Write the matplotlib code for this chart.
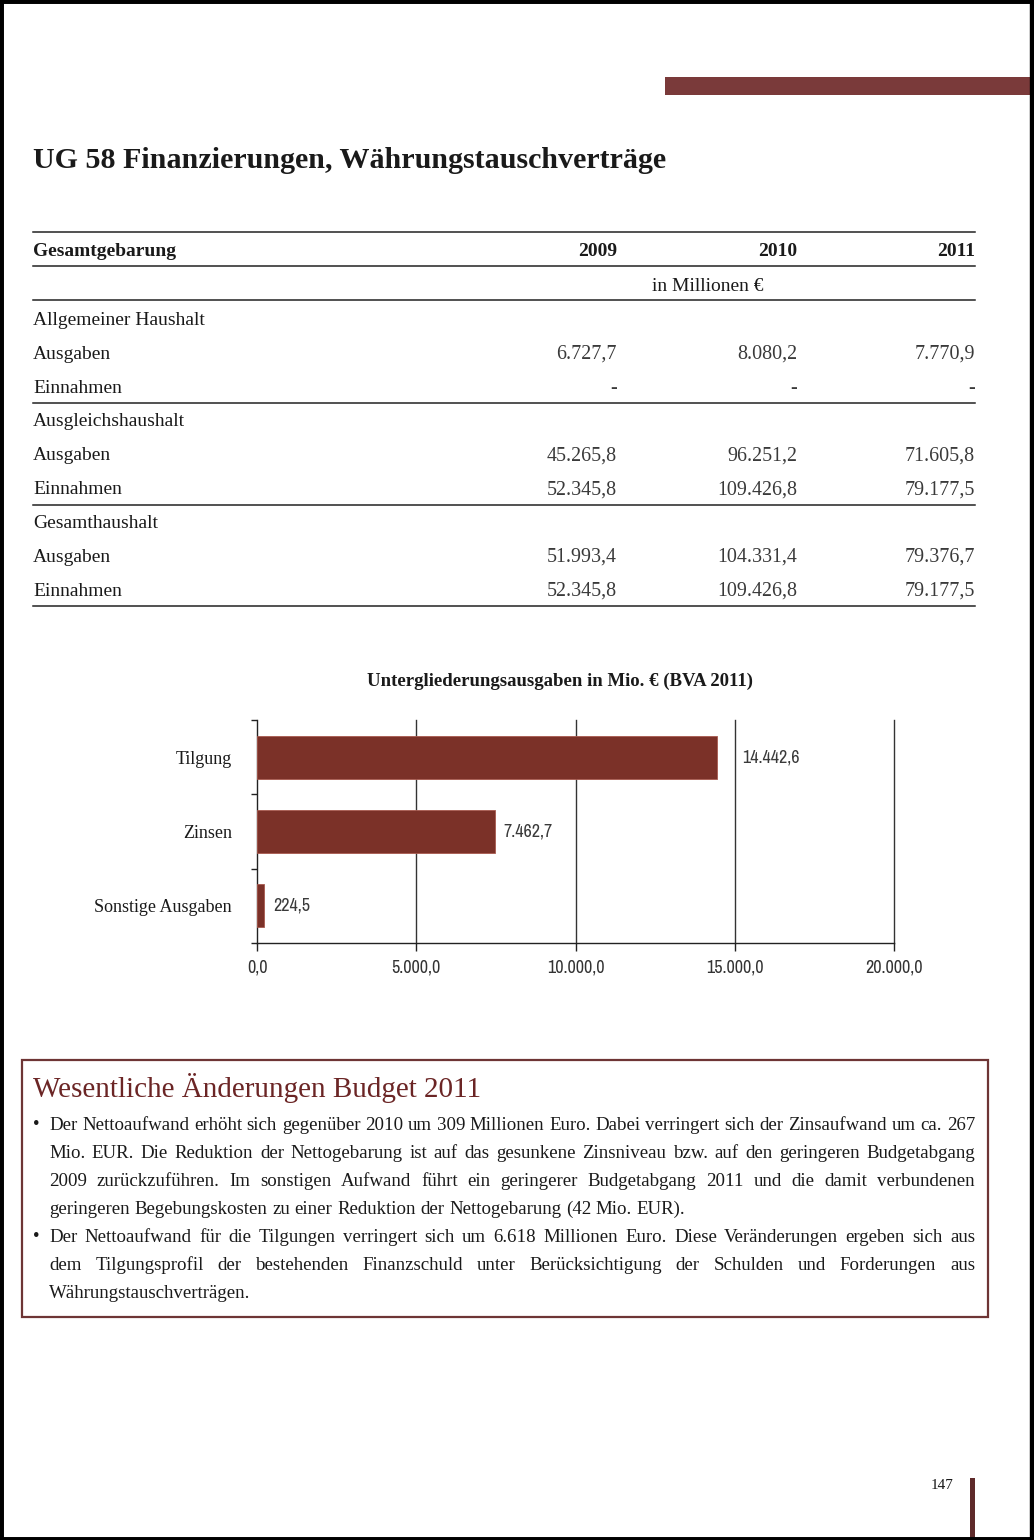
import matplotlib
matplotlib.use("Agg")
import matplotlib.pyplot as plt
from matplotlib.patches import Rectangle
from matplotlib.ticker import FuncFormatter, FixedLocator
from matplotlib import font_manager as fm

# ---------------- data ----------------
page_title = "UG 58 Finanzierungen, Währungstauschverträge"
years = ["2009", "2010", "2011"]
table_sections = ["Allgemeiner Haushalt", "Ausgleichshaushalt", "Gesamthaushalt"]
allg_ausgaben = [6727.7, 8080.2, 7770.9]
allg_einnahmen = [None, None, None]
ausgl_ausgaben = [45265.8, 96251.2, 71605.8]
ausgl_einnahmen = [52345.8, 109426.8, 79177.5]
gesamt_ausgaben = [51993.4, 104331.4, 79376.7]
gesamt_einnahmen = [52345.8, 109426.8, 79177.5]

chart_title = "Untergliederungsausgaben in Mio. € (BVA 2011)"
categories = ["Tilgung", "Zinsen", "Sonstige Ausgaben"]
values = [14442.6, 7462.7, 224.5]
x_ticks = [0, 5000, 10000, 15000, 20000]

box_title = "Wesentliche Änderungen Budget 2011"
paragraphs = [
    ["Der Nettoaufwand erhöht sich gegenüber 2010 um 309 Millionen Euro. Dabei verringert sich der Zinsaufwand um ca. 267",
     "Mio. EUR. Die Reduktion der Nettogebarung ist auf das gesunkene Zinsniveau bzw. auf den geringeren Budgetabgang",
     "2009 zurückzuführen. Im sonstigen Aufwand führt ein geringerer Budgetabgang 2011 und die damit verbundenen",
     "geringeren Begebungskosten zu einer Reduktion der Nettogebarung (42 Mio. EUR)."],
    ["Der Nettoaufwand für die Tilgungen verringert sich um 6.618 Millionen Euro. Diese Veränderungen ergeben sich aus",
     "dem Tilgungsprofil der bestehenden Finanzschuld unter Berücksichtigung der Schulden und Forderungen aus",
     "Währungstauschverträgen."],
]
page_number = "147"

# ---------------- styles ----------------
SERIF = ["Liberation Serif", "DejaVu Serif"]
BAR_COLOR = "#7b3128"
ACCENT = "#7a3a3a"


def _is_regular(f):
    return f.style == "normal" and f.weight in (400, "normal", "regular")


# narrow sans for the chart numbers
_narrow = None
_cands = [f for f in fm.fontManager.ttflist if _is_regular(f)]
for key in ("narrow", "condensed"):
    for f in _cands:
        if key in f.name.lower() or key in str(f.stretch).lower() or key in f.fname.lower():
            if "mono" in f.name.lower() or "serif" in f.name.lower() and "sans" not in f.name.lower():
                continue
            _narrow = f.fname
            break
    if _narrow:
        break
NARROW_PROP = (fm.FontProperties(fname=_narrow, size=13) if _narrow
               else fm.FontProperties(family="Liberation Sans", size=11))


def de_fmt(v, dec=1):
    s = f"{v:,.{dec}f}"
    return s.replace(",", "X").replace(".", ",").replace("X", ".")


W, H = 1034, 1540
fig = plt.figure(figsize=(W / 100, H / 100), dpi=100)
fig.patch.set_facecolor("white")
bg = fig.add_axes([0, 0, 1, 1])
bg.set_xlim(0, W)
bg.set_ylim(H, 0)
bg.axis("off")

# page border (scan edge)
bg.add_patch(Rectangle((0, 0), W, H, fill=False, edgecolor="black", lw=5, zorder=10))
bg.add_patch(Rectangle((1030, 0), 4, H, color="black", zorder=10))

# top right accent bar
bg.add_patch(Rectangle((665, 77), 369, 18, color=ACCENT, lw=0))

# title
bg.text(33, 168, page_title, family=SERIF, fontsize=21.6, fontweight="bold",
        color="#1a1a1a", va="baseline", ha="left")

# ---------------- table ----------------
tx0, tx1 = 33, 975
col_right = [617, 797, 975]
for yl in [232, 266, 300, 403, 505, 606]:
    bg.plot([tx0, tx1], [yl, yl], color="#222222", lw=1.1)

tfs = 14
nfs = 14.4
bg.text(tx0, 256, "Gesamtgebarung", family=SERIF, fontsize=tfs, fontweight="bold",
        va="baseline", color="#1a1a1a")
for xr, yr in zip(col_right, years):
    bg.text(xr, 256, yr, family=SERIF, fontsize=tfs, fontweight="bold",
            va="baseline", ha="right", color="#1a1a1a")
bg.text(708, 291, "in Millionen €", family=SERIF, fontsize=tfs, va="baseline",
        ha="center", color="#1a1a1a")

table_rows = [
    (table_sections[0], allg_ausgaben, allg_einnahmen),
    (table_sections[1], ausgl_ausgaben, ausgl_einnahmen),
    (table_sections[2], gesamt_ausgaben, gesamt_einnahmen),
]
row_y0 = 325
step = 34
for i, (sec, aus, ein) in enumerate(table_rows):
    ys = row_y0 + i * 3 * step - i * 0.7
    bg.text(tx0, ys, sec, family=SERIF, fontsize=tfs, va="baseline", color="#1a1a1a")
    for j, (lab, vals) in enumerate([("Ausgaben", aus), ("Einnahmen", ein)]):
        yy = ys + (j + 1) * step
        bg.text(tx0, yy, lab, family=SERIF, fontsize=tfs, va="baseline", color="#1a1a1a")
        for xr, v in zip(col_right, vals):
            txt = "-" if v is None else de_fmt(v)
            bg.text(xr, yy, txt, family=SERIF, fontsize=nfs, va="baseline",
                    ha="right", color="#3a3a3a")

# ---------------- chart ----------------
cx0, cx1, cy0, cy1 = 257, 894, 720, 943
ax = fig.add_axes([cx0 / W, 1 - cy1 / H, (cx1 - cx0) / W, (cy1 - cy0) / H])
ax.set_facecolor("none")
ypos = list(range(len(categories)))
ax.barh(ypos, values, height=0.58, color=BAR_COLOR, edgecolor="#a85a4e", lw=0.6, zorder=3)
ax.set_xlim(0, 20000)
ax.set_ylim(len(categories) - 0.5, -0.5)
for t in x_ticks[1:]:
    ax.axvline(t, color="#333333", lw=1.0, zorder=1, clip_on=False)
for s in ["top", "right"]:
    ax.spines[s].set_visible(False)
for s in ["left", "bottom"]:
    ax.spines[s].set_color("#222222")
    ax.spines[s].set_linewidth(1.0)
ax.xaxis.set_major_locator(FixedLocator(x_ticks))
ax.xaxis.set_major_formatter(FuncFormatter(lambda v, p: de_fmt(v)))
ax.tick_params(axis="x", direction="out", length=6, width=1.0, color="#222222", pad=6,
               labelcolor="#333333")
for lbl in ax.get_xticklabels():
    lbl.set_fontproperties(NARROW_PROP)
ax.set_yticks(ypos)
ax.set_yticklabels(categories, family=SERIF, fontsize=13, color="#1a1a1a")
ax.tick_params(axis="y", which="major", length=0, pad=18)
ax.yaxis.set_minor_locator(FixedLocator([k - 0.5 for k in range(len(categories) + 1)]))
ax.tick_params(axis="y", which="minor", length=4, width=1.0, color="#222222", direction="out")

label_offsets = [25, 9, 9]
for yv, v, off in zip(ypos, values, label_offsets):
    ax.annotate(de_fmt(v), (v, yv), xytext=(off * 0.72, 0), textcoords="offset points",
                va="center", ha="left", fontproperties=NARROW_PROP, color="#3a3a3a")

bg.text(560, 686, chart_title, family=SERIF, fontsize=13.5, fontweight="bold",
        ha="center", va="baseline", color="#1a1a1a")

# ---------------- text box ----------------
bg.add_patch(Rectangle((22, 1060), 966, 257, fill=False, edgecolor="#6e3535", lw=1.6))
bg.text(33, 1097, box_title, family=SERIF, fontsize=21, color="#6b2525",
        va="baseline", ha="left")

renderer = fig.canvas.get_renderer()
bfs = 13.6
lx0, lx1 = 49, 975


def text_width(s):
    t = bg.text(0, 0, s, family=SERIF, fontsize=bfs)
    w = t.get_window_extent(renderer).width
    t.remove()
    return w


space_w = text_width("a a") - text_width("aa")


def draw_line(line, y, justify):
    words = line.split(" ")
    widths = [text_width(w) for w in words]
    if justify and len(words) > 1:
        gap = (lx1 - lx0 - sum(widths)) / (len(words) - 1)
        gap = max(gap, space_w * 0.6)
    else:
        gap = space_w
    x = lx0
    for w, wd in zip(words, widths):
        bg.text(x, y, w, family=SERIF, fontsize=bfs, va="baseline", ha="left", color="#1a1a1a")
        x += wd + gap


yline = 1130
lstep = 28
for para in paragraphs:
    bg.text(36, yline - 1, "•", family=SERIF, fontsize=bfs, va="baseline", ha="center",
            color="#1a1a1a")
    for k, line in enumerate(para):
        draw_line(line, yline, justify=(k < len(para) - 1))
        yline += lstep

# page number & bar
bg.text(954, 1489, page_number, family=SERIF, fontsize=11, ha="right", va="baseline",
        color="#1a1a1a")
bg.add_patch(Rectangle((970, 1478), 5, 62, color="#5e2a2a", lw=0))

fig.savefig("out.png", dpi=100, facecolor="white")
